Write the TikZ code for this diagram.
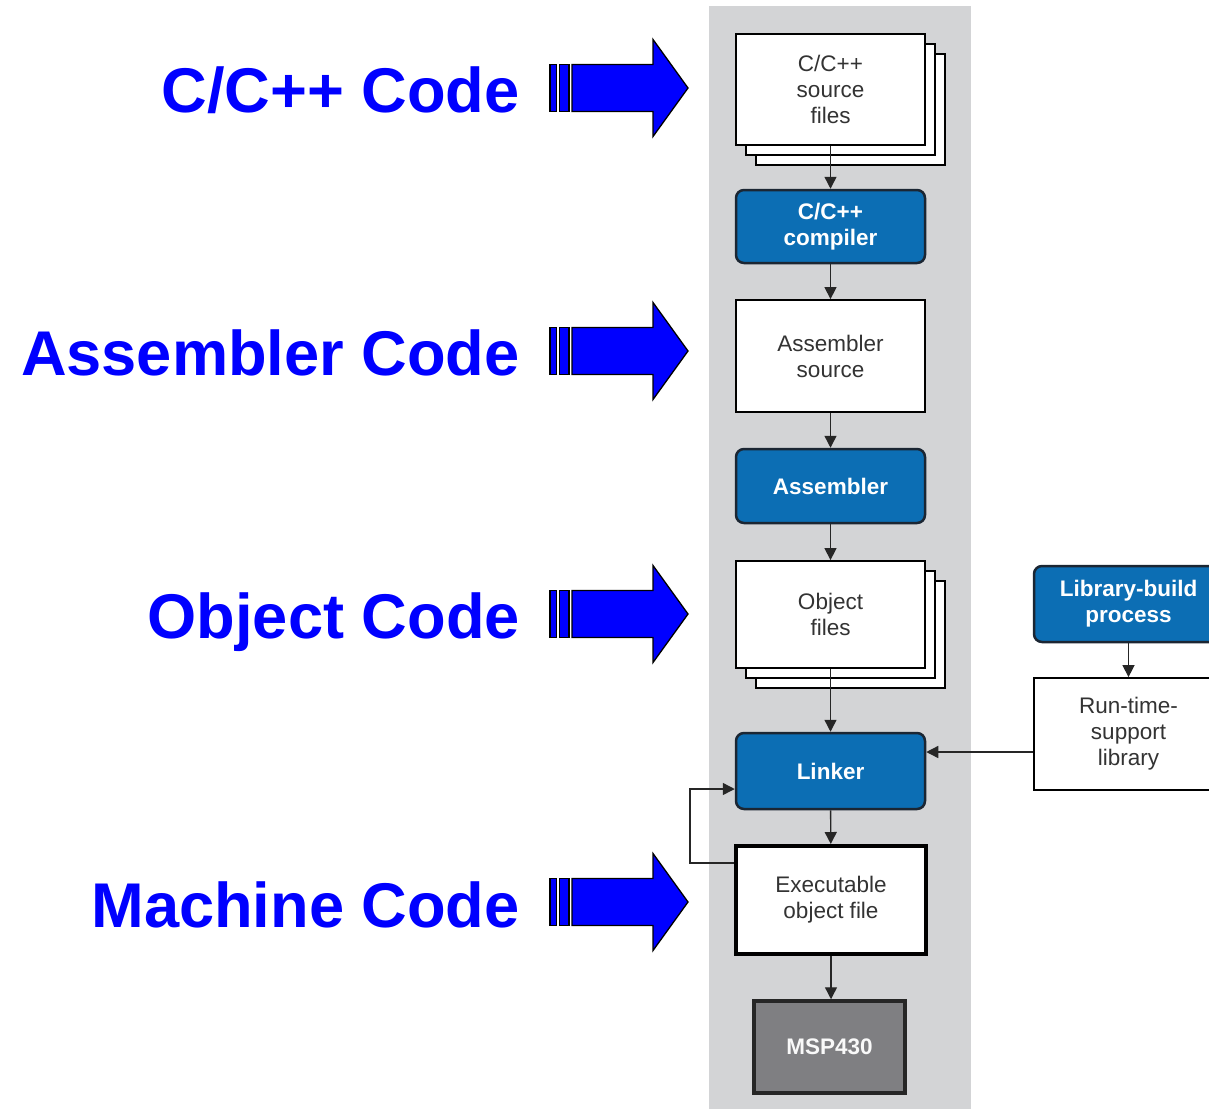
\documentclass[tikz,border=0pt]{standalone}
\usepackage{fontspec}
\setmainfont{Liberation Sans}
\usetikzlibrary{arrows.meta,shadows,calc}

\definecolor{panelgray}{HTML}{D3D4D6}
\definecolor{stepblue}{HTML}{0C6EB4}
\definecolor{stepedge}{HTML}{1B2633}
\definecolor{chipgray}{HTML}{7F7F82}
\definecolor{boxtext}{HTML}{333333}
\definecolor{labelblue}{HTML}{0000FF}

\tikzset{
  x=1pt, y=-1pt,
  boxfont/.style={font=\fontsize{22.5}{26}\selectfont, align=center},
  filebox/.style={boxfont, draw=black, line width=1.8pt, fill=white, text=boxtext,
    minimum width=189pt, inner sep=0pt},
  stackbox/.style={filebox,
    double copy shadow={shadow xshift=10pt, shadow yshift=-10pt,
      draw=black, fill=white, line width=1.8pt}},
  toolbox/.style={boxfont, font=\fontsize{22.5}{26}\selectfont\bfseries,
    draw=stepedge, line width=2.5pt, fill=stepblue, text=white,
    rounded corners=8pt, minimum width=189pt, inner sep=0pt},
  conn/.style={draw=black!85, line width=1.4pt,
    -{Triangle[width=12pt,length=12pt]}},
  codelabel/.style={font=\fontsize{63.2}{70}\selectfont\bfseries, text=labelblue,
    anchor=base east, inner sep=0pt},
  bigarrow/.pic={
    \begin{scope}[fill=labelblue, draw=black, line width=1.3pt, line join=miter]
      \filldraw (0,-23.5) rectangle (6.5,23.5);
      \filldraw (9.5,-23.5) rectangle (19,23.5);
      \filldraw (22,-23.5) -- (103,-23.5) -- (103,-48.5) -- (138,0)
        -- (103,48.5) -- (103,23.5) -- (22,23.5) -- cycle;
    \end{scope}
  }
}

\begin{document}
\begin{tikzpicture}
  \useasboundingbox (0,0) rectangle (1209,1108);
  \clip (0,0) rectangle (1209,1108);

  % grey panel behind the tool chain
  \fill[panelgray] (709,6) rectangle (971,1110);

  % main tool chain
  \node[stackbox, minimum height=111pt] (src) at (830.5,89.5)
    {C/C++\\source\\files};
  \node[toolbox, minimum height=73pt] (cc) at (830.5,226.5)
    {C/C++\\compiler};
  \node[filebox, minimum height=112pt] (asrc) at (830.5,356)
    {Assembler\\source};
  \node[toolbox, minimum height=74pt] (asm) at (830.5,486)
    {Assembler};
  \node[stackbox, minimum height=107pt] (obj) at (830.5,614.5)
    {Object\\files};
  \node[toolbox, minimum height=76pt] (lnk) at (830.5,771)
    {Linker};
  \node[filebox, line width=4pt, minimum width=190pt, minimum height=108pt] (exe) at (831,900)
    {Executable\\object file};
  \node[boxfont, font=\fontsize{22.5}{26}\selectfont\bfseries, draw=black!85,
    line width=3.5pt, fill=chipgray, text=white!95!gray,
    minimum width=151pt, minimum height=92pt] (mcu) at (829.5,1047)
    {MSP430};

  % run-time library branch
  \node[toolbox, minimum height=76pt] (lib) at (1128.5,604)
    {Library-build\\process};
  \node[filebox, minimum height=112pt] (rts) at (1128.5,734)
    {Run-time-\\support\\library};

  % connectors
  \draw[conn] (src) -- (cc);
  \draw[conn] (cc) -- (asrc);
  \draw[conn] (asrc) -- (asm);
  \draw[conn] (asm) -- (obj);
  \draw[conn] (obj.south) -- (lnk.north);
  \draw[conn] (lnk) -- (exe);
  \draw[conn] (exe.south) -- (exe.south |- mcu.north);
  \draw[conn] (lib) -- (rts);
  \draw[conn] ([yshift=-18pt]rts.west) -- ([yshift=-18pt]rts.west -| lnk.east);
  \coordinate (loop) at (690,0);
  \draw[conn] ([yshift=37pt]exe.west) -- ([yshift=37pt]exe.west -| loop)
    -- ([yshift=-18pt]lnk.west -| loop) -- ([yshift=-18pt]lnk.west);

  % code-level labels with their arrows
  \node[codelabel] (lc) at (520,112) {C/C++ Code};
  \node[codelabel] (la) at (520,375) {Assembler Code};
  \node[codelabel] (lo) at (520,638) {Object Code};
  \node[codelabel] (lm) at (520,927) {Machine Code};
  \pic at (550,88) {bigarrow};
  \pic at (550,351) {bigarrow};
  \pic at (550,614) {bigarrow};
  \pic at (550,902) {bigarrow};
\end{tikzpicture}
\end{document}
